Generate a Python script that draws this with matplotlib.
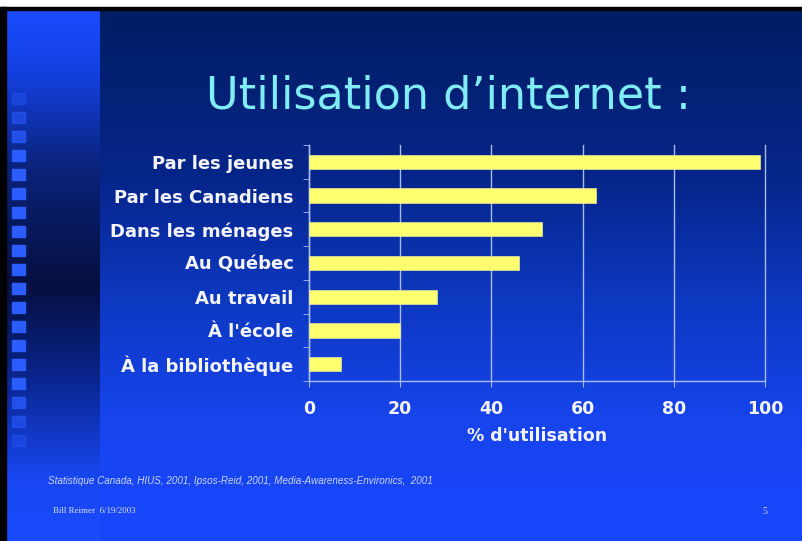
import matplotlib
matplotlib.use('agg')
import matplotlib.pyplot as plt
from matplotlib.patches import Rectangle
from matplotlib.colors import to_rgb
import numpy as np

categories = ['Par les jeunes', 'Par les Canadiens', 'Dans les ménages', 'Au Québec',
              'Au travail', "À l'école", 'À la bibliothèque']
values = [99, 63, 51, 46, 28, 20, 7]
xticks = [0, 20, 40, 60, 80, 100]

title = 'Utilisation d\u2019internet :'
xlabel = "% d'utilisation"
source = 'Statistique Canada, HIUS, 2001, Ipsos-Reid, 2001, Media-Awareness-Environics,  2001'
author = 'Bill Reimer  6/19/2003'
page = '5'

W, H = 803, 541
fig = plt.figure(figsize=(W / 100, H / 100), dpi=100)


def vgrad(stops, n):
    # stops: list of (pos 0..1 from top, colour)
    pos = [s[0] for s in stops]
    cols = np.array([to_rgb(s[1]) for s in stops])
    t = np.linspace(0, 1, n)
    return np.stack([np.interp(t, pos, cols[:, k]) for k in range(3)], axis=1)


# Background slide.
bg = fig.add_axes([0, 0, 1, 1])
bg.set_xlim(0, W)
bg.set_ylim(H, 0)
bg.axis('off')

main = vgrad([(0, '#001e62'), (0.35, '#06258a'), (0.6, '#0d38c0'),
              (0.85, '#1744ec'), (1, '#1846f8')], 300)
img = np.repeat(main[:, None, :], 2, axis=1)
bg.imshow(img, extent=[100, W, 490, 10], aspect='auto', zorder=0)
bg.add_patch(Rectangle((100, 490), W - 100, H - 490, color='#1846fa', zorder=0))

strip = vgrad([(0, '#1a4cff'), (0.12, '#1440e0'), (0.3, '#0a2278'), (0.52, '#050f40'),
               (0.7, '#0a2690'), (0.88, '#1846f0'), (1, '#1a4cff')], 300)
img2 = np.repeat(strip[:, None, :], 2, axis=1)
bg.imshow(img2, extent=[6, 100, H, 10], aspect='auto', zorder=0)

# Column of small squares on the left strip.
ys = np.arange(93, 450, 19)
for i, y in enumerate(ys):
    a = 1.0
    if i < 3:
        a = 0.35 + 0.2 * i
    if i > len(ys) - 4:
        a = 0.35 + 0.2 * (len(ys) - 1 - i)
    bg.add_patch(Rectangle((12, y), 13, 11, color='#2a5cff', alpha=a, zorder=1))

# Frame.
bg.add_patch(Rectangle((0, 0), W, 7, color='white', zorder=2))
bg.add_patch(Rectangle((0, 7), W, 3, color='black', zorder=2))
bg.add_patch(Rectangle((0, 7), 6, H - 7, color='black', zorder=2))

bg.text(449, 96, title, color='#80ecf4', fontsize=32, ha='center', va='center',
        family='DejaVu Sans')
bg.text(48, 481, source, color='#c8d4ff', fontsize=7.1, style='italic', ha='left',
        va='center', family='Liberation Sans')
bg.text(53, 511, author, color='#d8e0ff', fontsize=6.4, ha='left', va='center',
        family='Liberation Serif')
bg.text(762, 511, page, color='#d8e0ff', fontsize=7, ha='left', va='center',
        family='Liberation Serif')

# Bar chart.
ax = fig.add_axes([309 / W, 1 - 381 / H, (765 - 309) / W, (381 - 145) / H])
ax.patch.set_alpha(0)
y = np.arange(len(categories))
ax.barh(y, values, height=0.42, color='#ffff70', edgecolor='#e8e8a0', linewidth=0.5,
        zorder=3)
ax.set_ylim(len(categories) - 0.5, -0.5)
ax.set_xlim(0, 100)
ax.set_xticks(xticks)
ax.set_xticklabels([str(v) for v in xticks])
ax.set_yticks(y)
ax.set_yticklabels(categories)
ax.set_yticks(np.arange(-0.5, len(categories)), minor=True)

gc = '#a8bcf4'
ax.grid(axis='x', color=gc, lw=1, zorder=1)
for gl in ax.get_xgridlines():
    gl.set_clip_on(False)
for s in ['top', 'right']:
    ax.spines[s].set_visible(False)
for s in ['left', 'bottom']:
    ax.spines[s].set_color(gc)
    ax.spines[s].set_linewidth(1)
ax.tick_params(axis='y', which='major', length=0, pad=11, labelcolor='#f4f4ff',
               labelsize=13)
ax.tick_params(axis='y', which='minor', length=4, color=gc, direction='out')
ax.tick_params(axis='x', length=4, color=gc, pad=10, labelcolor='#f4f4ff',
               labelsize=12.5)
for lab in ax.get_yticklabels() + ax.get_xticklabels():
    lab.set_fontweight('bold')
ax.set_xlabel(xlabel, color='#f4f4ff', fontsize=12.5, fontweight='bold', labelpad=6)

fig.savefig('out.png', dpi=100)
